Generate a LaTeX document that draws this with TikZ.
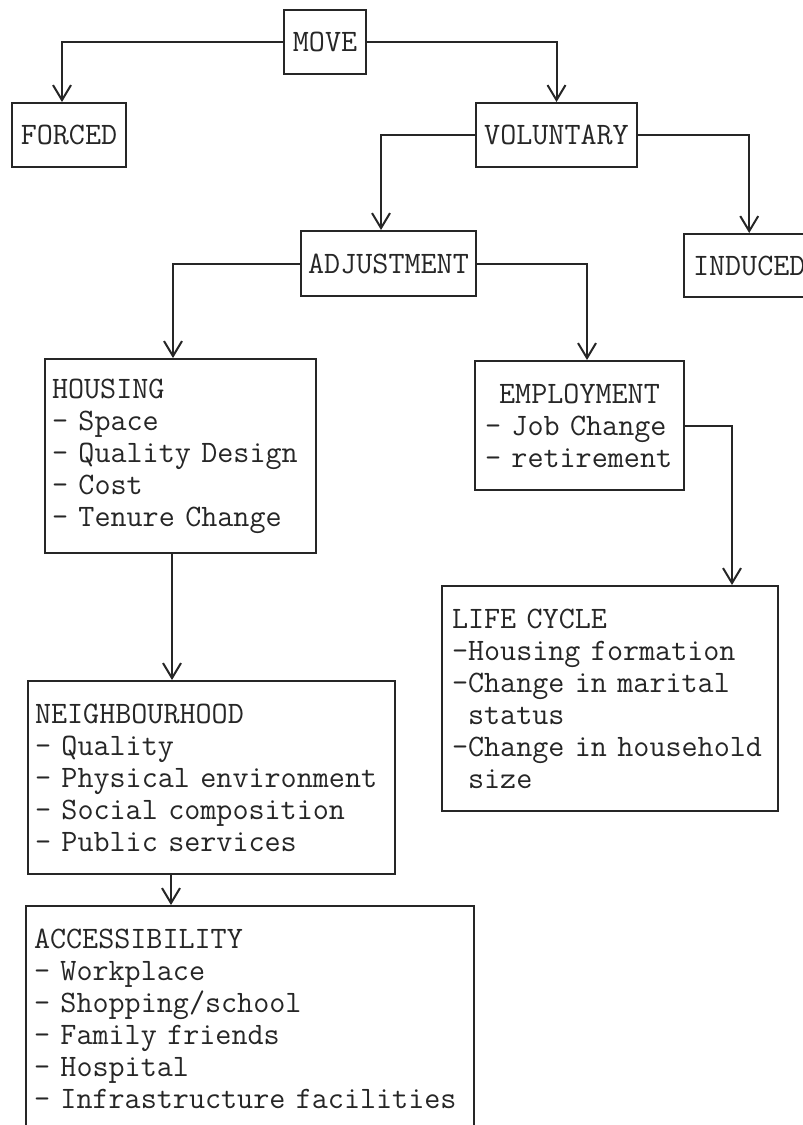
\documentclass[tikz,border=0pt]{standalone}
\usepackage{fontspec}
\usetikzlibrary{arrows.meta}
\begin{document}
\begin{tikzpicture}[x=0.5pt,y=-0.5pt,
  box/.style={draw=black!85, line width=1pt, rectangle, anchor=north west, inner sep=0pt,
    font=\ttfamily\fontsize{15.6pt}{16pt}\selectfont, text=black!85},
  sbox/.style={box, align=center},
  mbox/.style={box, align=left},
  arr/.style={draw=black!85, line width=1pt, -{Straight Barb[length=7.5pt,width=9pt,line width=1pt]}}
]
\useasboundingbox (0,0) rectangle (803,1125);
\fill[white] (0,0) rectangle (803,1125);

\node[sbox, minimum width=41pt, minimum height=32pt] (move) at (283,9) {MOVE};
\node[sbox, minimum width=57pt, minimum height=32pt] (forced) at (11,102) {FORCED};
\node[sbox, minimum width=80.5pt, minimum height=32pt] (vol) at (475,102) {VOLUNTARY};
\node[sbox, minimum width=87.5pt, minimum height=32.5pt] (adj) at (300,230) {ADJUSTMENT};
\node[sbox, inner xsep=4.5pt, minimum height=31.5pt] (ind) at (683,233) {INDUCED};

\node[mbox, text width=128.5pt, inner xsep=3.5pt, minimum height=97pt] (housing) at (44,358)
  {HOUSING\\\mbox{- Space}\\\mbox{- Quality Design}\\\mbox{- Cost}\\\mbox{- Tenure Change}};
\node[mbox, text width=94.5pt, inner xsep=5pt, minimum height=64.5pt] (emp) at (474,360)
  {\makebox[94.5pt][c]{EMPLOYMENT}\\\mbox{- Job Change}\\\mbox{- retirement}};
\node[mbox, text width=158pt, inner xsep=5pt, minimum height=112.5pt] (life) at (441,585)
  {\mbox{LIFE CYCLE}\\\mbox{-Housing formation}\\\mbox{-Change in marital}\\\hphantom{-}status\\\mbox{-Change in household}\\\hphantom{-}size};
\node[mbox, text width=176.5pt, inner xsep=3.5pt, minimum height=96.5pt] (neigh) at (27,680)
  {NEIGHBOURHOOD\\\mbox{- Quality}\\\mbox{- Physical environment}\\\mbox{- Social composition}\\\mbox{- Public services}};
\node[mbox, text width=216pt, inner xsep=4pt, minimum height=113pt] (access) at (25,905)
  {ACCESSIBILITY\\\mbox{- Workplace}\\\mbox{- Shopping/school}\\\mbox{- Family friends}\\\mbox{- Hospital}\\\mbox{- Infrastructure facilities}};

\draw[arr] (move.west) -| ([xshift=-3.5pt]forced.north);
\draw[arr] (move.east) -| (vol.north);
\draw[arr] (vol.west) -| ([xshift=-3.75pt]adj.north);
\draw[arr] (vol.east) -| (ind.north);
\draw[arr] (adj.west) -| ([xshift=-3.75pt]housing.north);
\draw[arr] (adj.east) -| ([xshift=3.75pt]emp.north);
\draw[arr] (emp.east) -| ([xshift=-23.5pt]life.north east);
\coordinate (h1) at ([xshift=-4.25pt]housing.south);
\draw[arr] (h1) -- (h1 |- neigh.north);
\coordinate (n1) at ([xshift=-20.25pt]neigh.south);
\draw[arr] (n1) -- (n1 |- access.north);
\end{tikzpicture}
\end{document}
